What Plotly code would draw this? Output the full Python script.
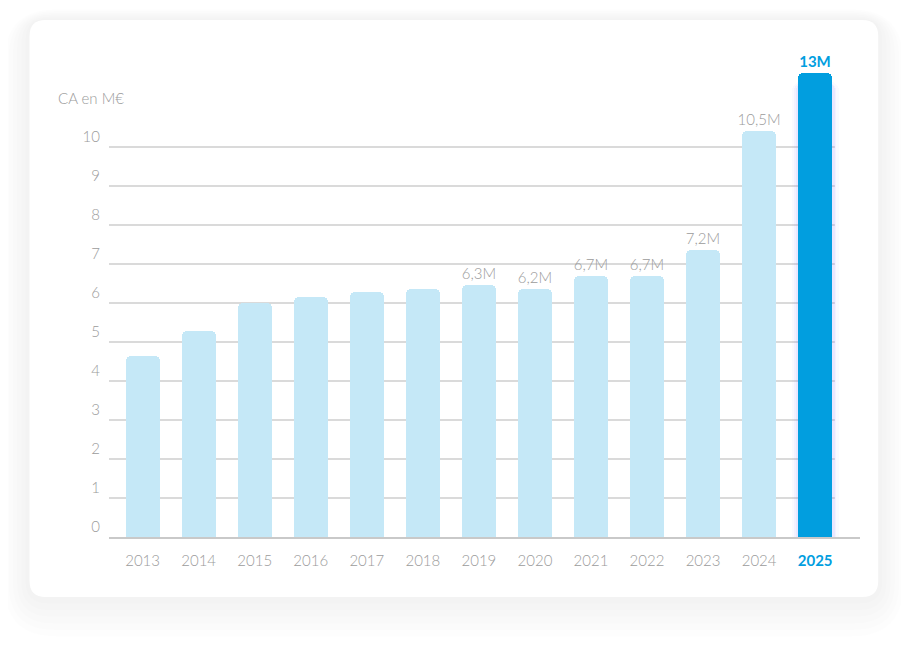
import plotly.graph_objects as go

# data (bar heights in M€, labels as printed)
years = ['2013', '2014', '2015', '2016', '2017', '2018', '2019',
         '2020', '2021', '2022', '2023', '2024', '2025']
revenue = [4.64, 5.28, 6.0, 6.15, 6.28, 6.36, 6.46, 6.35, 6.69, 6.69, 7.36, 10.4, 11.9]
labels = ['', '', '', '', '', '', '6,3M', '6,2M', '6,7M', '6,7M', '7,2M', '10,5M', '13M']
y_ticks = [0, 1, 2, 3, 4, 5, 6, 7, 8, 9, 10]
highlight = '2025'

LIGHT = '#c5e8f7'
BLUE = '#019edf'
GREY = '#9b9b9b'
FONT = 'Lato, Open Sans, sans-serif'

# target positions in window pixels; the page body adds an 8px offset
OFF = 8
W, H = 909 - 2 * OFF, 650 - 2 * OFF
PL, PR, PT, PB = 109.4, 859.8, 69.0, 537.0


def px(x, y):
    """window pixel -> paper coords"""
    return (x - PL) / (PR - PL), (PB - y) / (PB - PT)


def rounded_rect(x0, y0, x1, y1, r):
    p = lambda x, y: '%.5f,%.5f' % px(x, y)
    path = 'M ' + p(x0 + r, y0)
    path += ' L ' + p(x1 - r, y0)
    path += ' Q ' + p(x1, y0) + ' ' + p(x1, y0 + r)
    path += ' L ' + p(x1, y1 - r)
    path += ' Q ' + p(x1, y1) + ' ' + p(x1 - r, y1)
    path += ' L ' + p(x0 + r, y1)
    path += ' Q ' + p(x0, y1) + ' ' + p(x0, y1 - r)
    path += ' L ' + p(x0, y0 + r)
    path += ' Q ' + p(x0, y0) + ' ' + p(x0 + r, y0) + ' Z'
    return path


colors = [BLUE if y == highlight else LIGHT for y in years]
text_colors = [BLUE if y == highlight else GREY for y in years]
texts = ['<b>%s</b>' % t if y == highlight else t for y, t in zip(years, labels)]
glow = [v if y == highlight else None for y, v in zip(years, revenue)]

fig = go.Figure()

# soft glow behind the highlighted bar
for w, op in [(0.84, 0.03), (0.76, 0.05), (0.69, 0.07)]:
    fig.add_trace(go.Bar(
        x=years, y=glow, width=w,
        base=-0.2,
        marker=dict(color='rgba(110,100,255,%s)' % op, cornerradius=10, line=dict(width=0)),
        hoverinfo='skip', showlegend=False,
    ))

fig.add_trace(go.Bar(
    x=years, y=revenue, width=0.61,
    marker=dict(color=colors, cornerradius=5, line=dict(width=0)),
    text=texts,
    textposition='outside',
    constraintext='none',
    textfont=dict(family=FONT, size=15, color=text_colors, weight=300),
    cliponaxis=False,
    showlegend=False,
))

shapes = []
# card shadow + card
for g in [36, 30, 24, 18, 12, 6]:
    shapes.append(dict(type='path', xref='paper', yref='paper', layer='below',
                       path=rounded_rect(30 - g * 0.7, 20 - g * 0.3, 878 + g * 0.7, 597 + g * 1.1, 16 + g),
                       fillcolor='rgba(0,0,0,0.006)', line=dict(width=0)))
shapes.append(dict(type='path', xref='paper', yref='paper', layer='below',
                   path=rounded_rect(30, 20, 878, 597, 16),
                   fillcolor='white', line=dict(width=0)))
# gridlines
for v in y_ticks[1:]:
    shapes.append(dict(type='line', xref='x', yref='y', layer='below',
                       x0=-0.6, x1=12.35, y0=v, y1=v,
                       line=dict(color='#b5b5b5', width=1)))

ticktext = ["<b><span style='color:%s'>%s</span></b>" % (BLUE, y) if y == highlight else y
            for y in years]

fig.update_layout(
    width=W, height=H,
    margin=dict(l=PL - OFF, r=W + OFF - PR, t=PT - OFF, b=H + OFF - PB, pad=0),
    paper_bgcolor='white',
    plot_bgcolor='rgba(0,0,0,0)',
    barmode='overlay',
    bargap=0,
    font=dict(family=FONT, color=GREY, weight=300),
    shapes=shapes,
    xaxis=dict(
        type='category',
        range=[-0.6, 12.8],
        tickvals=years, ticktext=ticktext,
        tickfont=dict(family=FONT, size=15, color=GREY, weight=300),
        showgrid=False, zeroline=False,
        showline=True, linecolor='#c9c9c9', linewidth=1.5,
        ticks='', ticklabelstandoff=9,
    ),
    yaxis=dict(
        range=[0, 12],
        tickvals=y_ticks,
        tickfont=dict(family=FONT, size=15, color=GREY, weight=300),
        showgrid=False, zeroline=False, showline=False,
        ticks='', ticklabelshift=-10, ticklabelstandoff=8,
    ),
    annotations=[dict(
        text='CA en M€', xref='paper', yref='paper',
        x=px(56, 0)[0], y=px(0, 98)[1], xanchor='left', yanchor='middle',
        showarrow=False, font=dict(family=FONT, size=15, color=GREY, weight=300),
    )],
)

fig.write_html('out.html')
